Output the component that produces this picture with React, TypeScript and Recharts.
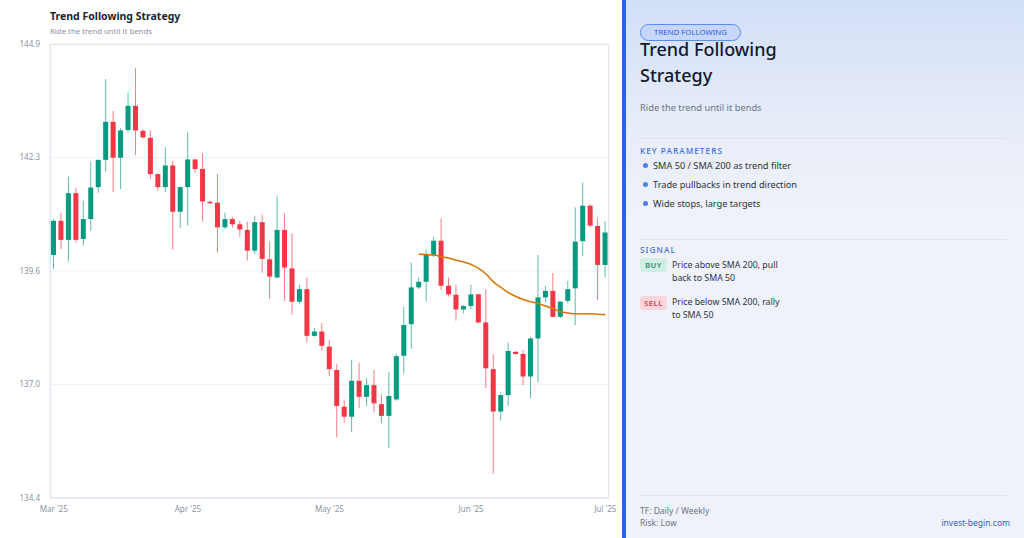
import React from "react";
import { ComposedChart, Bar, Line, XAxis, YAxis, CartesianGrid } from "recharts";

const opens = [
  140.02, 140.81, 140.37, 141.45, 140.39, 140.85, 141.59, 142.22, 143.1, 142.27,
  142.91, 143.47, 142.89, 142.73, 141.89, 141.59, 142.09, 141.02, 141.59, 142.23,
  142.01, 141.25, 141.23, 140.66, 140.85, 140.73, 140.6, 140.12, 140.78, 139.92,
  139.5, 140.6, 139.71, 138.94, 139.23, 138.15, 138.25, 137.9, 137.36, 136.51,
  136.28, 137.11, 136.74, 137.01, 136.57, 136.3, 136.68, 137.69, 138.42, 139.27,
  139.4, 140.02, 140.35, 139.31, 139.1, 138.76, 138.84, 139.11, 138.46, 137.38,
  136.4, 136.78, 137.78, 137.73, 137.21, 138.09, 139.04, 139.19, 138.59, 138.96,
  139.25, 140.34, 141.16, 140.69, 139.79,
];
const highs = [
  140.85, 141.0, 141.83, 141.57, 141.28, 142.18, 142.23, 144.09, 143.35, 142.95,
  143.78, 144.34, 142.93, 142.9, 141.91, 142.51, 142.2, 141.6, 142.86, 142.24,
  142.37, 141.28, 141.89, 141.0, 140.9, 140.81, 140.79, 140.93, 140.95, 140.33,
  141.39, 140.98, 140.51, 139.33, 139.5, 138.33, 138.45, 138.05, 137.5, 136.68,
  137.59, 137.53, 137.17, 137.36, 136.8, 137.32, 137.73, 138.82, 139.84, 139.5,
  140.14, 140.44, 140.87, 139.5, 139.33, 138.86, 139.33, 139.13, 139.23, 137.73,
  136.84, 137.99, 137.8, 137.82, 138.13, 140.02, 139.3, 139.6, 138.96, 139.42,
  141.12, 141.7, 141.19, 140.88, 140.81,
];
const lows = [
  139.7, 140.16, 139.87, 140.3, 140.24, 140.58, 141.46, 141.95, 141.47, 141.55,
  142.85, 142.33, 142.72, 141.78, 141.5, 141.47, 140.14, 140.64, 140.7, 141.92,
  140.79, 141.2, 140.08, 140.62, 140.65, 140.44, 139.89, 140.04, 139.61, 139.0,
  139.48, 138.96, 138.63, 138.89, 137.99, 138.13, 137.81, 137.22, 135.8, 136.14,
  135.93, 136.48, 136.53, 136.38, 136.13, 135.55, 136.65, 137.28, 137.85, 139.23,
  138.94, 139.97, 139.21, 139.06, 138.5, 138.67, 138.76, 138.44, 136.94, 134.96,
  136.19, 136.53, 137.72, 137.01, 136.71, 137.07, 138.92, 138.58, 138.56, 138.9,
  138.4, 140.0, 140.66, 138.98, 139.5,
];
const closes = [
  140.81, 140.37, 141.45, 140.37, 140.85, 141.58, 142.22, 143.1, 142.27, 142.9,
  143.47, 142.9, 142.74, 141.89, 141.59, 142.09, 141.02, 141.59, 142.23, 142.01,
  141.26, 141.23, 140.66, 140.85, 140.73, 140.61, 140.12, 140.78, 139.93, 139.52,
  140.6, 139.73, 138.94, 139.23, 138.15, 138.25, 137.92, 137.38, 136.53, 136.28,
  137.11, 136.74, 137.01, 136.59, 136.3, 136.76, 137.68, 138.4, 139.27, 139.4,
  140.02, 140.35, 139.31, 139.11, 138.76, 138.84, 139.11, 138.46, 137.4, 136.4,
  136.78, 137.8, 137.73, 137.21, 138.09, 139.04, 139.19, 138.59, 138.94, 139.23,
  140.33, 141.16, 140.7, 139.79, 140.54,
];
// SMA 50 overlay starts at candle 49
const smaStart = 49;
const sma50 = [
  140.04, 140.03, 140.02, 139.98, 139.95, 139.9, 139.86, 139.8, 139.71, 139.58,
  139.4, 139.27, 139.15, 139.06, 138.99, 138.94, 138.9, 138.84, 138.78, 138.71,
  138.68, 138.66, 138.66, 138.66, 138.65, 138.64,
];

const monthTicks = [0, 18, 37, 56, 74];
const monthLabels = ["Mar '25", "Apr '25", "May '25", "Jun '25", "Jul '25"];
const priceTicks = [134.4, 137.025, 139.65, 142.275, 144.9];
const priceLabels = ["134.4", "137.0", "139.6", "142.3", "144.9"];

const params = [
  "SMA 50 / SMA 200 as trend filter",
  "Trade pullbacks in trend direction",
  "Wide stops, large targets",
];

const UP = "#089981";
const DOWN = "#f23645";

const data = opens.map((o, i) => ({
  i,
  open: o,
  high: highs[i],
  low: lows[i],
  close: closes[i],
  sma: i >= smaStart ? sma50[i - smaStart] : null,
}));

const Candle = (props: any) => {
  const { x, y, width, height, payload } = props;
  if (!payload) return null;
  const { open, close, high, low } = payload;
  const range = high - low;
  const k = range > 0 ? height / range : 0;
  const yOf = (v: number) => y + (high - v) * k;
  const color = close >= open ? UP : DOWN;
  const cx = x + width / 2;
  const top = yOf(Math.max(open, close));
  const bot = yOf(Math.min(open, close));
  return (
    <g>
      <line x1={cx} x2={cx} y1={y} y2={y + height} stroke={color} strokeOpacity={0.65} strokeWidth={1} />
      <rect x={x} y={top} width={width} height={Math.max(bot - top, 1.5)} fill={color} />
    </g>
  );
};

const font = "'Noto Sans', 'Open Sans', sans-serif";

export default function App() {
  return (
    <div style={{ position: "fixed", left: 0, top: 0, width: 1024, height: 538, background: "#fff", fontFamily: font, overflow: "hidden" }}>
      <div style={{ position: "absolute", left: 50, top: 9, fontSize: 10.5, fontWeight: 700, color: "#1b2333" }}>
        Trend Following Strategy
      </div>
      <div style={{ position: "absolute", left: 50, top: 26, fontSize: 7.8, color: "#8a93a3" }}>
        Ride the trend until it bends
      </div>

      <div style={{ position: "absolute", left: 0, top: 0 }}>
        <ComposedChart width={622} height={538} data={data} margin={{ top: 44, right: 13, bottom: 10, left: 5 }}>
          <CartesianGrid vertical={false} stroke="#eff1f5" />
          <XAxis
            dataKey="i"
            ticks={monthTicks}
            interval={0}
            tickFormatter={(v) => monthLabels[monthTicks.indexOf(v)]}
            tickLine={false}
            axisLine={{ stroke: "#e0e4ee" }}
            tick={{ fontSize: 8, fill: "#8a94a6" }}
            height={30}
          />
          <YAxis
            domain={[134.4, 144.9]}
            allowDataOverflow
            ticks={priceTicks}
            tickFormatter={(v) => priceLabels[priceTicks.indexOf(v)]}
            tickLine={false}
            tickSize={0}
            tickMargin={10}
            axisLine={{ stroke: "#e0e2f0" }}
            tick={{ fontSize: 8, fill: "#8a94a6" }}
            width={45}
          />
          <Bar dataKey={(d: any) => [d.low, d.high]} barSize={5} shape={Candle} isAnimationActive={false} />
          <Line dataKey="sma" type="monotone" stroke="#d97706" strokeWidth={1.6} dot={false} activeDot={false} isAnimationActive={false} />
        </ComposedChart>
      </div>
      <div style={{ position: "absolute", left: 50, top: 44, width: 559, height: 454, border: "1px solid #e3e7ef", boxSizing: "border-box", pointerEvents: "none" }} />

      <div style={{ position: "absolute", left: 622, top: 0, width: 4, height: 538, background: "#2b63e0" }} />
      <div style={{ position: "absolute", left: 626, top: 0, width: 398, height: 538, background: "linear-gradient(180deg, #d2dff8 0%, #e6ecf8 22%, #eff2f8 40%, #eff2f8 100%)" }}>
        <div style={{ position: "absolute", left: 14, top: 24, height: 15, width: 99, borderRadius: 9, border: "1px solid #5b8def", background: "#c6d7fa", color: "#2f5fd0", fontSize: 7.8, lineHeight: "15px", textAlign: "center" }}>
          TREND FOLLOWING
        </div>
        <div style={{ position: "absolute", left: 14, top: 36, fontSize: 18, lineHeight: "26px", fontWeight: 500, color: "#111a2e" }}>
          Trend Following
          <br />
          Strategy
        </div>
        <div style={{ position: "absolute", left: 14, top: 101, fontSize: 9.3, color: "#6b7588" }}>Ride the trend until it bends</div>
        <div style={{ position: "absolute", left: 14, top: 138, width: 367, height: 1, background: "#dde3ec" }} />
        <div style={{ position: "absolute", left: 14, top: 145, fontSize: 8.3, fontWeight: 500, color: "#3d6fe0", letterSpacing: 1 }}>KEY PARAMETERS</div>
        {params.map((p, k) => (
          <div key={p} style={{ position: "absolute", left: 14, top: 159 + k * 19, fontSize: 9.2, color: "#2a3344", display: "flex", alignItems: "center" }}>
            <span style={{ width: 5, height: 5, borderRadius: 3, background: "#4f7fe8", marginLeft: 3, marginRight: 5 }} />
            {p}
          </div>
        ))}
        <div style={{ position: "absolute", left: 14, top: 239, width: 367, height: 1, background: "#dde3ec" }} />
        <div style={{ position: "absolute", left: 14, top: 244, fontSize: 8.3, fontWeight: 500, color: "#3d6fe0", letterSpacing: 1 }}>SIGNAL</div>
        <div style={{ position: "absolute", left: 14, top: 258, width: 27, height: 14, borderRadius: 3, background: "#d3eee4", color: "#1a9a75", fontSize: 7.8, fontWeight: 600, letterSpacing: 0.4, lineHeight: "14px", textAlign: "center" }}>BUY</div>
        <div style={{ position: "absolute", left: 46, top: 259, width: 112, fontSize: 8.8, lineHeight: "13px", color: "#2a3344" }}>
          Price above SMA 200, pull back to SMA 50
        </div>
        <div style={{ position: "absolute", left: 14, top: 296, width: 27, height: 14, borderRadius: 3, background: "#f8d6dc", color: "#e03a50", fontSize: 7.8, fontWeight: 600, letterSpacing: 0.4, lineHeight: "14px", textAlign: "center" }}>SELL</div>
        <div style={{ position: "absolute", left: 46, top: 296, width: 112, fontSize: 8.8, lineHeight: "13px", color: "#2a3344" }}>
          Price below SMA 200, rally to SMA 50
        </div>
        <div style={{ position: "absolute", left: 14, top: 495, width: 367, height: 1, background: "#dde3ec" }} />
        <div style={{ position: "absolute", left: 14, top: 505, fontSize: 8.5, color: "#6b7588" }}>TF: Daily / Weekly</div>
        <div style={{ position: "absolute", left: 14, top: 517, fontSize: 8.5, color: "#6b7588" }}>Risk: Low</div>
        <div style={{ position: "absolute", right: 14, top: 517, fontSize: 8.5, color: "#2f5fd0" }}>invest-begin.com</div>
      </div>
    </div>
  );
}
